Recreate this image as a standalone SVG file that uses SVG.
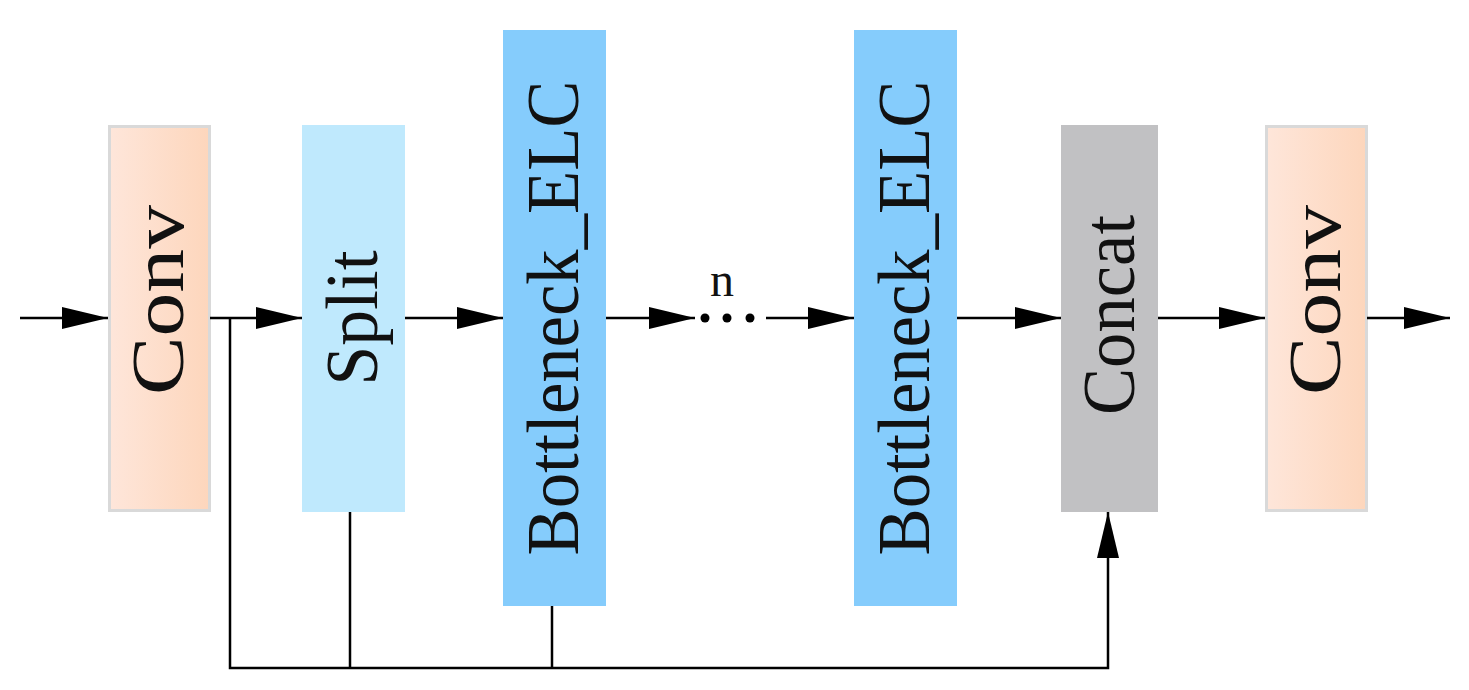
<svg xmlns="http://www.w3.org/2000/svg" width="1469" height="690" viewBox="0 0 1469 690">
<defs>
<linearGradient id="peach" x1="0" x2="1" y1="0" y2="0"><stop offset="0" stop-color="#fee6da"/><stop offset="1" stop-color="#fdd6bc"/></linearGradient>
<marker id="ah" markerWidth="46" markerHeight="22" refX="46" refY="11" orient="auto" markerUnits="userSpaceOnUse"><path d="M0,0 L46,11 L0,22 Z" fill="#000"/></marker>
<style>
text{font-family:"Liberation Serif","Times New Roman",serif;font-size:74px;fill:#111;text-anchor:middle}
.c{stroke:#000;stroke-width:2.5;fill:none}
</style>
</defs>
<rect width="1469" height="690" fill="#fff"/>
<g id="conv1"><rect x="109.5" y="126.5" width="100" height="384" fill="url(#peach)" stroke="#d9d9d9" stroke-width="3"/><text transform="translate(183,300) rotate(-90)" textLength="190" lengthAdjust="spacingAndGlyphs">Conv</text></g>
<g id="split"><rect x="302" y="125" width="103" height="387" fill="#bfe9fd"/><text transform="translate(377,318) rotate(-90)" textLength="135" lengthAdjust="spacingAndGlyphs">Split</text></g>
<g id="bneck1"><rect x="503" y="30" width="103" height="576" fill="#85ccfc"/><text transform="translate(578,318) rotate(-90)" textLength="475" lengthAdjust="spacingAndGlyphs">Bottleneck_ELC</text></g>
<g id="bneck2"><rect x="854" y="30" width="103" height="576" fill="#85ccfc"/><text transform="translate(929,318) rotate(-90)" textLength="475" lengthAdjust="spacingAndGlyphs">Bottleneck_ELC</text></g>
<g id="concat"><rect x="1061" y="125" width="97" height="387" fill="#c1c1c3"/><text transform="translate(1134,315) rotate(-90)" textLength="200" lengthAdjust="spacingAndGlyphs">Concat</text></g>
<g id="conv2"><rect x="1266.5" y="126.5" width="100" height="384" fill="url(#peach)" stroke="#d9d9d9" stroke-width="3"/><text transform="translate(1340,300) rotate(-90)" textLength="190" lengthAdjust="spacingAndGlyphs">Conv</text></g>
<g id="dots"><text x="722" y="296" style="font-size:48px">n</text><circle cx="705" cy="318" r="4.5" fill="#000"/><circle cx="727" cy="318" r="4.5" fill="#000"/><circle cx="750" cy="318" r="4.5" fill="#000"/></g>
<g id="connectors">
<path class="c" d="M20,318 H108" marker-end="url(#ah)"/>
<path class="c" d="M210,318 H302" marker-end="url(#ah)"/>
<path class="c" d="M405,318 H503" marker-end="url(#ah)"/>
<path class="c" d="M606,318 H695" marker-end="url(#ah)"/>
<path class="c" d="M766,318 H854" marker-end="url(#ah)"/>
<path class="c" d="M957,318 H1061" marker-end="url(#ah)"/>
<path class="c" d="M1158,318 H1265" marker-end="url(#ah)"/>
<path class="c" d="M1367,318 H1450" marker-end="url(#ah)"/>
<path class="c" d="M230,318 V668 H1108 V512" marker-end="url(#ah)"/>
<path class="c" d="M350,512 V668"/>
<path class="c" d="M552,606 V668"/>
</g>
</svg>
